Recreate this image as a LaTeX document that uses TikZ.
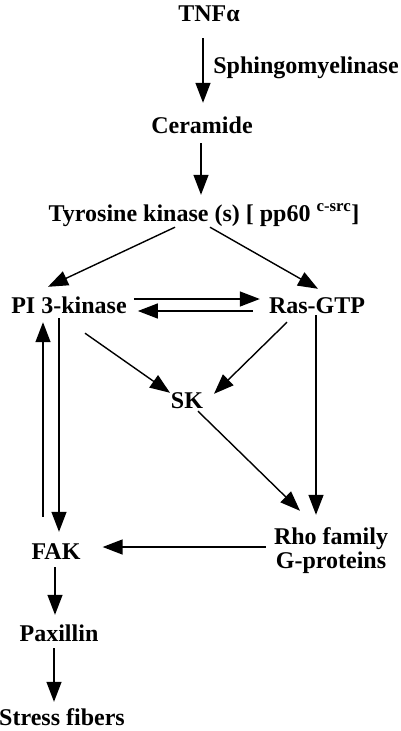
\documentclass[tikz,border=0pt]{standalone}
\usepackage{fontspec}
\setmainfont{Liberation Serif}
\usepackage{tikz}
\usetikzlibrary{positioning}
\usetikzlibrary{arrows.meta}

\begin{document}
\begin{tikzpicture}[x=1pt, y=-1pt,
		mol/.style={font=\fontsize{24}{24}\selectfont\bfseries, inner sep=2pt, text height=17pt, text depth=5pt},
		arr/.style={line width=1.4pt, -{Triangle[length=20pt,width=15pt]}},
		ln/.style={line width=1.4pt}]
			\useasboundingbox (0,0) rectangle (400,731);

			% Molecules
			\node[mol] (tnf) at (209,15) {TNFα};
			\node[mol] (sph) at (306,67) {Sphingomyelinase};
			\node[mol] (cer) at (202,127) {Ceramide};
			\node[mol] (tk) at (204,215) {Tyrosine kinase (s) [ pp60 \textsuperscript{c-src}]};
			\node[mol] (pi) at (69,307) {PI 3-kinase};
			\node[mol] (ras) at (317,307) {Ras-GTP};
			\node[mol] (sk) at (187,402) {SK};
			\node[mol, text height=, text depth=, align=center, inner sep=2pt] (rho) at (331,551) {Rho family\\G-proteins};
			\node[mol] (fak) at (56,553) {FAK};
			\node[mol] (pax) at (59,635) {Paxillin};
			\node[mol] (sf) at (62,719) {Stress fibers};

			% Main chain
			\draw[arr] ([xshift=-6pt,yshift=-10pt]tnf.south) -- ([xshift=1pt,yshift=11pt]cer.north);
			\draw[arr] ([xshift=-1pt,yshift=-3pt]cer.south) -- ([xshift=-3pt,yshift=7pt]tk.north);
			\draw[arr] ([xshift=-29pt,yshift=1pt]tk.south) -- ([xshift=-21pt,yshift=7pt]pi.north);
			\draw[arr] ([xshift=6pt,yshift=1pt]tk.south) -- ([xshift=1pt,yshift=5pt]ras.north);

			% PI 3-kinase <-> Ras-GTP
			\draw[arr] ([xshift=5pt,yshift=8pt]pi.east) -- ([xshift=-7pt,yshift=8pt]ras.west);
			\draw[arr] ([xshift=-14pt,yshift=-4pt]ras.west) -- ([xshift=9pt,yshift=-4pt]pi.east);

			% to SK and Rho
			\draw[arr] ([xshift=16pt,yshift=-13pt]pi.south) -- ([xshift=-17pt,yshift=-4pt]sk.north);
			\draw[arr] ([xshift=-30pt,yshift=-2pt]ras.south) -- ([xshift=27pt,yshift=-5pt]sk.north);
			\draw[arr] ([xshift=11pt,yshift=4pt]sk.south) -- ([xshift=-31pt,yshift=15pt]rho.north);
			\draw[arr] ([xshift=-1pt,yshift=5pt]ras.south) -- ([xshift=-15pt,yshift=11pt]rho.north);

			% FAK loop
			\draw[arr] ([xshift=-10pt,yshift=2pt]pi.south) -- ([xshift=3pt,yshift=8pt]fak.north);
			\draw[arr] ([xshift=-13pt,yshift=23pt]fak.north) -- ([xshift=-26pt,yshift=-2pt]pi.south);
			\draw[arr] ([xshift=-6pt,yshift=4pt]rho.west) -- ([xshift=20pt,yshift=6pt]fak.east);

			% down to stress fibers
			\draw[arr] ([xshift=-1pt,yshift=-1pt]fak.south) -- ([xshift=-4pt,yshift=7pt]pax.north);
			\draw[arr] ([xshift=-5pt,yshift=0pt]pax.south) -- ([xshift=-8pt,yshift=4pt]sf.north);

\end{tikzpicture}
\end{document}
